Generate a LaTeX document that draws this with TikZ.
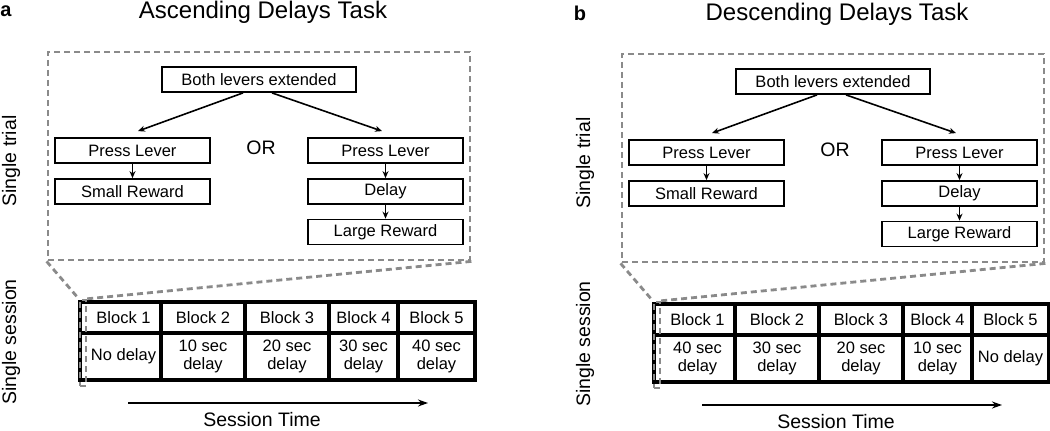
\documentclass[tikz,border=0pt]{standalone}
\usepackage{fontspec}
\setmainfont{Liberation Sans}
\usetikzlibrary{arrows.meta}

\definecolor{zoomgray}{RGB}{138,138,138}
% left edge / text centre / delay of each block
\def\cellsa{80/123.5/No delay, 161/203/10 sec\\delay, 245/287/20 sec\\delay,
  329/363.5/30 sec\\delay, 398/436.5/40 sec\\delay}
\def\cellsb{80/123.5/40 sec\\delay, 161/203/30 sec\\delay, 245/287/20 sec\\delay,
  329/363.5/10 sec\\delay, 398/436.5/No delay}

\begin{document}
\begin{tikzpicture}[x=1pt, y=-1pt,
    nodes = {font=\fontsize{16.5}{18.5}\selectfont},
    stepbox/.style = {draw, line width=1.8pt, minimum height=25pt, inner sep=0pt},
    link/.style = {line width=1.6pt, -{Stealth[length=7pt,width=6pt]}},
    zoomline/.style = {draw=zoomgray, line width=2.8pt, dash pattern=on 6pt off 4pt},
    gridline/.style = {line width=3.6pt},
    biglabel/.style = {font=\fontsize{19.5}{22}\selectfont}]
  \useasboundingbox (0,0) rectangle (1050,431);
  \foreach \letter/\task/\dx/\dy in {a/Ascending/0/0, b/Descending/574/2} {
    \expandafter\let\expandafter\celllist\csname cells\letter\endcsname
    \begin{scope}[shift={(\dx,\dy)}]
      % Headings
      \node[font=\fontsize{20}{22}\selectfont\bfseries] (lab\letter) at (6,11) {\letter};
      \node[font=\fontsize{24}{26}\selectfont] (title\letter) at (263,12) {\task\ Delays Task};
      \node[biglabel, rotate=90] (trialtxt\letter) at (11,161) {Single trial};
      \node[biglabel, rotate=90] (sesstxt\letter) at (11,342) {Single session};
      % Single trial
      \node[zoomline, minimum width=422pt, minimum height=208pt, inner sep=0pt]
        (trial\letter) at (259,156) {};
      \node[stepbox, minimum width=194pt] (both\letter) at (259,79.5) {Both levers extended};
      \node[stepbox, minimum width=155pt] (pressl\letter) at (132.5,150.5) {Press Lever};
      \node[stepbox, minimum width=155pt] (small\letter) at (132.5,191.5) {Small Reward};
      \node[biglabel] (or\letter) at (261,148) {OR};
      \node[stepbox, minimum width=155pt] (pressr\letter) at (385.5,150.5) {Press Lever};
      \node[stepbox, minimum width=155pt] (delay\letter) at (385.5,191.5) {Delay};
      \node[stepbox, minimum width=155pt] (large\letter) at (385.5,232) {Large Reward};
      \draw[link] ([xshift=-16pt]both\letter.south) -- ([xshift=5.5pt,yshift=6pt]pressl\letter.north);
      \draw[link] ([xshift=13pt]both\letter.south) -- ([xshift=-3.5pt,yshift=6pt]pressr\letter.north);
      \draw[link] (pressl\letter) -- (small\letter);
      \draw[link] (pressr\letter) -- (delay\letter);
      \draw[link] (delay\letter) -- (large\letter);
      % Single session
      \draw[gridline] (80,302) rectangle (475,380);
      \draw[gridline] (80,333) -- (475,333);
      \foreach \xl/\xt/\delay [count=\i] in \celllist {
        \ifnum\i>1 \draw[gridline] (\xl,302) -- (\xl,380); \fi
        \node (blk\i\letter) at (\xt,317.5) {Block \i};
        \node[align=center] (dly\i\letter) at (\xt,356.5) {\delay};
      }
      \node[zoomline, line width=2.4pt, minimum width=6pt, minimum height=86pt, inner sep=0pt]
        (slice\letter) at (83,343) {};
      \draw[zoomline] (trial\letter.south west) -- (slice\letter.north west);
      \draw[zoomline] (trial\letter.south east) -- (slice\letter.north east);
      \coordinate (t0\letter) at (128,403);
      \coordinate (t1\letter) at (428,403);
      \draw[link, -{Stealth[length=10pt,width=7pt]}] (t0\letter) -- (t1\letter);
      \node[biglabel] (time\letter) at (262,419.5) {Session Time};
    \end{scope}
  }
\end{tikzpicture}
\end{document}
